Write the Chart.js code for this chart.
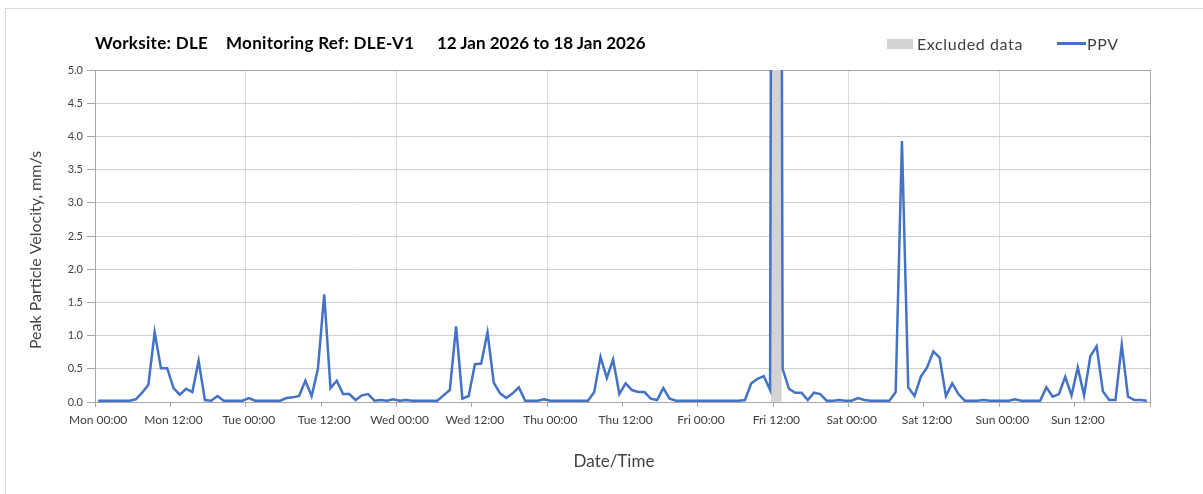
<!DOCTYPE html>
<html>
<head>
<meta charset="utf-8">
<script src="https://cdn.jsdelivr.net/npm/chart.js@4.4.1/dist/chart.umd.min.js"></script>
<style>
html,body{margin:0;padding:0;background:#fff;}
#wrap{position:relative;width:1203px;height:494px;overflow:hidden;font-family:Lato,"Open Sans",sans-serif;}
#frame{position:absolute;left:5px;top:8px;width:1400px;height:700px;border-left:1px solid #d9d9d9;border-top:1px solid #d9d9d9;}
canvas{position:absolute;left:0;top:0;}
.t{position:absolute;top:33px;font-weight:bold;font-size:17px;line-height:1.2;color:#000;white-space:nowrap;}
.lg{position:absolute;top:34px;font-size:16px;letter-spacing:0.6px;line-height:1.2;color:#404040;white-space:nowrap;}
.sw{position:absolute;}
</style>
</head>
<body>
<div id="wrap">
  <div id="frame"></div>
  <canvas id="c" width="1203" height="494"></canvas>
  <div class="t" style="left:95px;letter-spacing:0.3px">Worksite: DLE</div>
  <div class="t" style="left:226px;letter-spacing:0.3px">Monitoring Ref: DLE-V1</div>
  <div class="t" style="left:437px">12 Jan 2026 to 18 Jan 2026</div>
  <div class="sw" style="left:887px;top:39px;width:26px;height:10px;background:#d3d3d3"></div>
  <div class="lg" style="left:917px">Excluded data</div>
  <div class="sw" style="left:1057px;top:42px;width:29px;height:3px;background:#4472C4"></div>
  <div class="lg" style="left:1087px">PPV</div>
</div>
<script>
// ---- data ----
const days = ['Mon','Tue','Wed','Thu','Fri','Sat','Sun'];
const hoursOfDay = ['00:00','01:00','02:00','03:00','04:00','05:00','06:00','07:00','08:00','09:00','10:00','11:00',
                    '12:00','13:00','14:00','15:00','16:00','17:00','18:00','19:00','20:00','21:00','22:00','23:00'];
const categories = days.flatMap(d => hoursOfDay.map(h => d + ' ' + h));
const tickLabels = ['Mon 00:00','Mon 12:00','Tue 00:00','Tue 12:00','Wed 00:00','Wed 12:00','Thu 00:00',
                    'Thu 12:00','Fri 00:00','Fri 12:00','Sat 00:00','Sat 12:00','Sun 00:00','Sun 12:00'];
// hourly PPV, mm/s (Mon 00:00 .. Sun 23:00)
const ppvMon = [0.02,0.02,0.02,0.02,0.02,0.02,0.04,0.14,0.26,1.05,0.51,0.51,0.21,0.11,0.20,0.15,0.62,0.03,0.02,0.09,0.02,0.02,0.02,0.02];
const ppvTue = [0.06,0.02,0.02,0.02,0.02,0.02,0.06,0.07,0.09,0.32,0.09,0.50,1.62,0.21,0.32,0.12,0.12,0.03,0.10,0.12,0.02,0.03,0.02,0.04];
const ppvWed = [0.02,0.03,0.02,0.02,0.02,0.02,0.02,0.10,0.18,1.14,0.05,0.09,0.57,0.58,1.05,0.29,0.13,0.06,0.13,0.22,0.02,0.02,0.02,0.04];
const ppvThu = [0.02,0.02,0.02,0.02,0.02,0.02,0.02,0.15,0.68,0.36,0.64,0.12,0.28,0.18,0.15,0.15,0.05,0.03,0.21,0.05,0.02,0.02,0.02,0.02];
const ppvFri = [0.02,0.02,0.02,0.02,0.02,0.02,0.02,0.03,0.28,0.35,0.39,0.18,40.0,0.50,0.20,0.14,0.14,0.03,0.14,0.12,0.02,0.02,0.03,0.02];
const ppvSat = [0.02,0.06,0.03,0.02,0.02,0.02,0.02,0.15,3.93,0.22,0.09,0.38,0.52,0.76,0.67,0.09,0.28,0.12,0.02,0.02,0.02,0.03,0.02,0.02];
const ppvSun = [0.02,0.02,0.04,0.02,0.02,0.02,0.02,0.22,0.08,0.12,0.38,0.10,0.52,0.10,0.69,0.84,0.16,0.03,0.03,0.86,0.08,0.03,0.03,0.02];
const ppv = [].concat(ppvMon, ppvTue, ppvWed, ppvThu, ppvFri, ppvSat, ppvSun);
const excludedHours = ['Fri 12:00'];
const excludedTop = 5;
const yTitle = 'Peak Particle Velocity, mm/s';
const xTitle = 'Date/Time';

const axisCol = '#a6a6a6';
const axisTitles = {
  id: 'axisTitles',
  afterDraw(chart) {
    const c = chart.ctx;
    c.save();
    c.fillStyle = '#404040';
    c.textAlign = 'center';
    c.textBaseline = 'middle';
    c.font = '17px Lato';
    c.fillText(xTitle, 614, 462);
    c.font = '16px Lato';
    c.translate(35.5, 250);
    c.rotate(-Math.PI / 2);
    c.fillText(yTitle, 0, 0);
    c.restore();
  }
};

new Chart(document.getElementById('c'), {
  type: 'line',
  data: {
    labels: categories,
    datasets: [
      { type: 'line', label: 'PPV', data: ppv, borderColor: '#4472C4', borderWidth: 2.5,
        pointRadius: 0, tension: 0, order: 0 },
      { type: 'bar', label: 'Excluded data', data: excludedHours.map(h => ({ x: h, y: excludedTop })),
        backgroundColor: '#d3d3d3', barThickness: 10, order: 1 }
    ]
  },
  options: {
    responsive: false, animation: false, devicePixelRatio: 1,
    layout: { padding: { left: 0, right: 53, top: 70, bottom: 0 } },
    plugins: { legend: { display: false }, tooltip: { enabled: false } },
    scales: {
      x: {
        type: 'category', offset: true,
        grid: {
          offset: true, lineWidth: 1, tickLength: 5,
          color: ctx => {
            if (ctx.type !== 'tick') return axisCol;
            if (ctx.index === 0) return axisCol;
            return categories[ctx.index].endsWith('00:00') ? '#dadada' : 'rgba(0,0,0,0)';
          },
          tickColor: ctx => {
            if (ctx.type !== 'tick') return axisCol;
            return tickLabels.includes(categories[ctx.index]) ? axisCol : 'rgba(0,0,0,0)';
          }
        },
        border: { color: axisCol },
        ticks: {
          autoSkip: false, maxRotation: 0, minRotation: 0, padding: 6, color: '#404040',
          font: { family: 'Lato', size: 12 },
          callback: (v, i) => tickLabels.includes(categories[i]) ? categories[i] : ''
        },
        afterFit: s => { s.height = 92; }
      },
      y: {
        min: 0, max: 5,
        ticks: { stepSize: 0.5, padding: 4, color: '#404040', font: { family: 'Lato', size: 11 },
                 callback: v => Number(v).toFixed(1) },
        grid: { color: ctx => (ctx.tick && ctx.tick.value === 5) ? axisCol : '#cfcfcf',
                tickLength: 8, tickColor: axisCol },
        border: { color: axisCol },
        afterFit: s => { s.width = 95; }
      }
    }
  },
  plugins: [axisTitles]
});
</script>
</body>
</html>
